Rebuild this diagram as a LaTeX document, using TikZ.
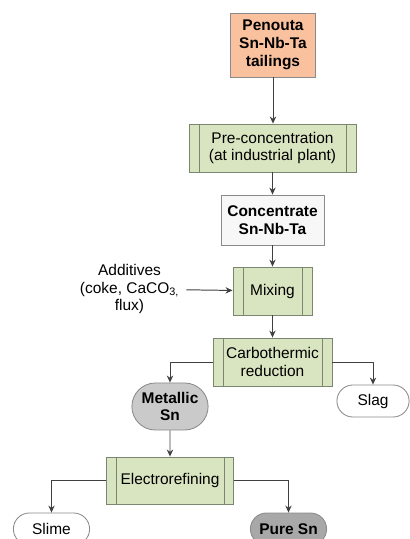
\documentclass[tikz,border=0pt]{standalone}
\usepackage{fontspec}
\setmainfont{Liberation Sans}
\usetikzlibrary{arrows.meta,shapes.misc}
\definecolor{tailfill}{HTML}{FAC19F}
\definecolor{procfill}{HTML}{D9E4C0}
\definecolor{procline}{HTML}{7A8670}
\definecolor{boxline}{HTML}{8A8A8A}
\definecolor{metalfill}{HTML}{CACACA}
\definecolor{purefill}{HTML}{A8A8A8}
\definecolor{flowline}{HTML}{404040}
\begin{document}
\begin{tikzpicture}[x=0.025cm,y=-0.025cm,
  every node/.style={font=\fontsize{11}{12.6}\selectfont, align=center, inner sep=1pt},
  flow/.style={draw=flowline, line width=0.7pt, -{Stealth[length=5pt,width=4.5pt]}},
  feed/.style={draw=boxline, line width=0.6pt, font=\fontsize{11}{12.6}\selectfont\bfseries},
  proc/.style={draw=procline, fill=procfill, line width=0.6pt,
    path picture={
      \draw[procline, line width=0.6pt]
        ([xshift=0.25cm]path picture bounding box.north west) --
        ([xshift=0.25cm]path picture bounding box.south west);
      \draw[procline, line width=0.6pt]
        ([xshift=-0.23cm]path picture bounding box.north east) --
        ([xshift=-0.23cm]path picture bounding box.south east);
    }},
  term/.style={rounded rectangle, draw=boxline, line width=0.6pt, fill=white},
  product/.style={term, font=\fontsize{11}{12.6}\selectfont\bfseries}]
\useasboundingbox (0,0) rectangle (409,539);

\node[feed, fill=tailfill, minimum width=2.125cm, minimum height=1.6cm] (tail) at (273,45) {Penouta\\Sn-Nb-Ta\\tailings};
\node[proc, minimum width=4.175cm, minimum height=1.2cm] (precon) at (272.5,148) {Pre-concentration\\(at industrial plant)};
\node[feed, fill=gray!6, minimum width=2.575cm, minimum height=1.25cm] (conc) at (272.5,220) {Concentrate\\Sn-Nb-Ta};
\node[proc, minimum width=1.975cm, minimum height=1.2cm] (mix) at (272.5,291) {Mixing};
\node[inner sep=5pt] (adds) at (129.5,289) {Additives\\(coke, CaCO\textsubscript{3,}\\flux)};
\node[proc, minimum width=2.975cm, minimum height=1.2cm] (carb) at (272.5,362) {Carbothermic\\reduction};
\node[product, fill=metalfill, minimum width=1.975cm, minimum height=1.175cm] (metal) at (170,406.5) {Metallic\\Sn};
\node[term, minimum width=1.875cm, minimum height=0.8cm] (slag) at (373,401) {Slag};
\node[proc, minimum width=3.175cm, minimum height=1.175cm] (elec) at (170,480.5) {Electrorefining};
\node[term, minimum width=1.975cm, minimum height=0.8cm] (slime) at (51.5,529) {Slime};
\node[product, fill=purefill, minimum width=1.975cm, minimum height=0.8cm] (pure) at (288.5,529) {Pure Sn};

\draw[flow] (tail) -- (tail |- precon.north);
\draw[flow] (precon) -- (conc);
\draw[flow] (conc) -- (mix);
\draw[flow] (adds) -- (mix);
\draw[flow] (mix) -- (carb);
\draw[flow] (carb.west) -| (metal.north);
\draw[flow] (carb.east) -| (slag.north);
\draw[flow] (metal) -- (elec);
\draw[flow] (elec.west) -| (slime.north);
\draw[flow] (elec.east) -| (pure.north);

\end{tikzpicture}
\end{document}
